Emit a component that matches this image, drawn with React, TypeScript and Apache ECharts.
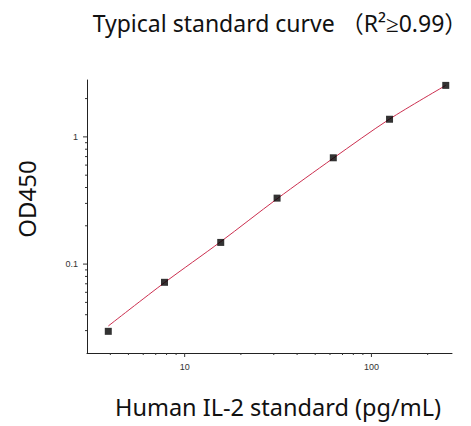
import React, { useEffect, useRef } from "react";
import * as echarts from "echarts";

const concentrations = [3.9, 7.8, 15.6, 31.25, 62.5, 125, 250];
const odValues = [0.0296, 0.0719, 0.148, 0.33, 0.685, 1.376, 2.54];
const fitValues = [0.0326, 0.0715, 0.15, 0.326, 0.68, 1.38, 2.54];

const xMajorTicks = [10, 100];
const xMinorTicks = [4, 5, 6, 7, 8, 9, 20, 30, 40, 50, 60, 70, 80, 90, 200];
const yMajorTicks = [0.1, 1];
const yMinorTicks = [0.03, 0.04, 0.05, 0.06, 0.07, 0.08, 0.09, 0.2, 0.3, 0.4, 0.5, 0.6, 0.7, 0.8, 0.9, 2];

const xMin = 3;
const xMax = 270;
const yMin = 0.02;
const yMax = 2.8;

const titleMain = "Typical standard curve ";
const titleInner = "R²≥0.99";
const xTitle = "Human IL-2 standard (pg/mL)";
const yTitle = "OD450";

export default function App() {
  const ref = useRef<HTMLDivElement>(null);
  useEffect(() => {
    if (!ref.current) return;
    const chart = echarts.init(ref.current, undefined, { renderer: "svg" });
    const tickColor = "#333";
    const xTickData = [
      ...xMajorTicks.map((v) => [v, 4]),
      ...xMinorTicks.map((v) => [v, 2]),
    ];
    const yTickData = [
      ...yMajorTicks.map((v) => [v, 4]),
      ...yMinorTicks.map((v) => [v, 2]),
    ];
    chart.setOption({
      animation: false,
      backgroundColor: "#fff",
      grid: { left: 87, right: 19, top: 80, bottom: 73, containLabel: false },
      xAxis: {
        type: "log",
        logBase: 10,
        min: xMin,
        max: xMax,
        axisLine: { show: true, lineStyle: { color: "#222", width: 1 } },
        axisTick: { show: false },
        splitLine: { show: false },
        axisLabel: {
          show: true,
          margin: 9,
          color: "#333",
          fontSize: 9,
          fontFamily: "Liberation Sans",
          showMinLabel: false,
          showMaxLabel: false,
          formatter: (v: number) => (xMajorTicks.some((t) => Math.abs(t - v) < 1e-6) ? String(v) : ""),
        },
      },
      yAxis: {
        type: "log",
        logBase: 10,
        min: yMin,
        max: yMax,
        axisLine: { show: true, lineStyle: { color: "#222", width: 1 } },
        axisTick: { show: false },
        splitLine: { show: false },
        axisLabel: {
          show: true,
          margin: 9,
          color: "#333",
          fontSize: 9,
          fontFamily: "Liberation Sans",
          showMinLabel: false,
          showMaxLabel: false,
          formatter: (v: number) => (yMajorTicks.some((t) => Math.abs(t - v) < 1e-9) ? String(v) : ""),
        },
      },
      graphic: [
        {
          type: "text",
          x: 280,
          y: 23,
          style: {
            text: "{a|" + titleMain + "}{p|（}{a|" + titleInner + "}{p|）}",
            textAlign: "center",
            textVerticalAlign: "middle",
            rich: {
              a: { fontSize: 23, fontFamily: "Noto Sans", fill: "#111" },
              p: { fontSize: 23, fontFamily: "Noto Sans CJK SC", fill: "#111" },
            },
          },
        },
        {
          type: "text",
          x: 278,
          y: 407,
          style: {
            text: xTitle,
            fontSize: 23.5,
            fontFamily: "Noto Sans",
            fill: "#111",
            textAlign: "center",
            textVerticalAlign: "middle",
          },
        },
        {
          type: "text",
          x: 26,
          y: 199,
          rotation: Math.PI / 2,
          style: {
            text: yTitle,
            fontSize: 24,
            fontFamily: "Noto Sans",
            fill: "#111",
            textAlign: "center",
            textVerticalAlign: "middle",
          },
        },
      ],
      series: [
        {
          type: "line",
          data: concentrations.map((c, i) => [c, fitValues[i]]),
          smooth: 0.3,
          showSymbol: false,
          symbol: "none",
          lineStyle: { color: "#cc3050", width: 1 },
          z: 2,
        },
        {
          type: "scatter",
          data: concentrations.map((c, i) => [c, odValues[i]]),
          symbol: "rect",
          symbolSize: 7,
          itemStyle: { color: "#000" },
          z: 3,
        },
        {
          type: "custom",
          clip: false,
          data: xTickData,
          renderItem: (params: any, api: any) => {
            const p = api.coord([api.value(0), yMin]);
            const len = api.value(1);
            return {
              type: "line",
              shape: { x1: p[0], y1: p[1], x2: p[0], y2: p[1] + len },
              style: { stroke: tickColor, lineWidth: 1 },
            };
          },
          z: 4,
        },
        {
          type: "custom",
          clip: false,
          data: yTickData.map((d) => [xMin, d[0], d[1]]),
          renderItem: (params: any, api: any) => {
            const p = api.coord([xMin, api.value(1)]);
            const len = api.value(2);
            return {
              type: "line",
              shape: { x1: p[0], y1: p[1], x2: p[0] - len, y2: p[1] },
              style: { stroke: tickColor, lineWidth: 1 },
            };
          },
          z: 4,
        },
      ],
    });
    return () => chart.dispose();
  }, []);
  return <div ref={ref} style={{ width: 471, height: 426, position: "absolute", left: 0, top: 0 }} />;
}
